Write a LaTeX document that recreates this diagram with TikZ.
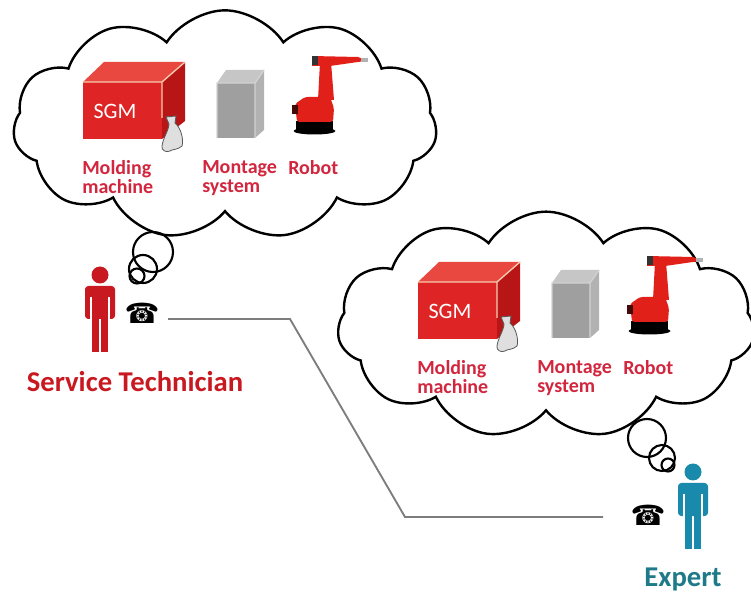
\documentclass[tikz,border=0pt]{standalone}
\usepackage{fontspec}
\setmainfont{Carlito}
\newfontfamily\symfont{DejaVu Sans}
\usetikzlibrary{shapes.symbols}

\definecolor{labelred}{RGB}{210,38,62}
\definecolor{techred}{RGB}{200,24,32}
\definecolor{boxred}{RGB}{222,36,36}
\definecolor{boxdark}{RGB}{184,22,22}
\definecolor{boxlight}{RGB}{232,72,64}
\definecolor{rimcol}{RGB}{246,204,176}
\definecolor{robotred}{RGB}{226,32,26}
\definecolor{expertblue}{RGB}{26,138,172}
\definecolor{experttext}{RGB}{30,122,136}
\definecolor{wiregray}{RGB}{125,125,125}

\tikzset{
  bubble/.style={cloud, cloud puffs=11, cloud puff arc=115, cloud ignores aspect,
    draw, line width=1.8pt, inner sep=0pt},
  machine/.style={font=\bfseries\fontsize{15}{14.5}\selectfont, text=labelred,
    align=left, anchor=north west, inner sep=0pt},
  role/.style={font=\bfseries\fontsize{21.5}{24}\selectfont, anchor=base, inner sep=0pt},
  phone/.style={font=\symfont\fontsize{21}{21}\selectfont, inner sep=0pt},
  wire/.style={draw=wiregray, line width=1.4pt},
  person/.pic={
    \fill (0,0) circle[radius=8.5];
    \fill[rounded corners=2.5pt] (-15,44) -- (-15,11) -- (15,11) -- (15,44) -- cycle;
    \draw[white, line width=1pt] (-9,22) -- (-9,45) (9,22) -- (9,45);
    \fill (-8,40) rectangle (-0.8,77);
    \fill (0.8,40) rectangle (8,77);
  },
  plant/.pic={
    % molding machine
    \fill[boxdark] (162,82) -- (185,62) -- (185,121) -- (162,139) -- cycle;
    \fill[boxlight] (83,82) -- (104,62) -- (185,62) -- (162,82) -- cycle;
    \fill[boxred] (83,82) rectangle (162,139);
    \draw[rimcol, line width=1pt] (83,82) -- (162,82) -- (185,62) (162,82) -- (162,118);
    \node[white, font=\fontsize{16.5}{16.5}\selectfont] (-sgm) at (115,111) {SGM};
    \filldraw[fill=gray!25, draw=gray!70!black, line width=0.6pt]
      (166,117) -- (176,116) -- (175,123) .. controls (181,128) and (184,140) .. (182,146)
      .. controls (178,150) and (172,149) .. (170,151) .. controls (166,153) and (161,150) .. (162,146)
      .. controls (163,138) and (169,130) .. (169,124) -- cycle;
    % montage system
    \fill[gray!45] (226,70) -- (264,70) -- (255,83) -- (217,83) -- cycle;
    \fill[gray!60] (255,83) -- (264,70) -- (264,130) -- (255,138) -- cycle;
    \fill[gray!75] (217,83) rectangle (255,138);
    \draw[gray!35, line width=1pt] (217,138) -- (217,83) -- (255,83) -- (255,138) (255,83) -- (264,70);
    % robot
    \fill[black] (296,121) rectangle (333,131);
    \fill[black] (314.5,131) ellipse [x radius=21, y radius=3.5];
    \fill[robotred, rounded corners=2pt] (297,122) -- (295,104) -- (305,97) -- (330,97)
      -- (334,108) -- (333,122) -- cycle;
    \fill[black!70!robotred] (292,105) rectangle (298,114);
    \fill[robotred] (318,100) -- (320,62) -- (331,62) -- (334,100) -- cycle;
    \fill[robotred] (312,56) -- (358,57) -- (362,58.5) -- (362,61.5) -- (358,62)
      -- (330,66) -- (312,66) -- cycle;
    \fill[black!80] (312,56) rectangle (318,65);
    \fill[gray!60] (361,58) rectangle (368,62);
    % labels
    \node[machine] (-molding) at (82,160) {Molding\\machine};
    \node[machine] (-montage) at (202,160) {Montage\\system};
    \node[machine] (-robot) at (288,160) {Robot};
  }
}

\begin{document}
\begin{tikzpicture}[x=0.75pt, y=-0.75pt]
  \useasboundingbox (0,0) rectangle (751,599);

  % thought clouds
  \node[bubble, minimum width=318pt, minimum height=172pt] (thinkT) at (225,125) {};
  \node[bubble, minimum width=313pt, minimum height=170pt] (thinkE) at (546,325) {};

  \begin{scope}[every node/.style={circle, draw, line width=1.6pt, inner sep=0pt}]
    \node[minimum size=30pt]    (bT1) at (153,252) {};
    \node[minimum size=21pt]    (bT2) at (143,269) {};
    \node[minimum size=11.25pt] (bT3) at (137,276) {};
    \node[minimum size=28.5pt]  (bE1) at (647,438) {};
    \node[minimum size=19.5pt]  (bE2) at (662,458) {};
    \node[minimum size=9.75pt]  (bE3) at (668,465) {};
  \end{scope}

  \pic (plantT) at (0,0) {plant};
  \pic (plantE) at (335,200) {plant};

  % the two people and their phones
  \pic[techred] (tech) at (100,275) {person};
  \pic[expertblue] (expert) at (693,472) {person};
  \node[phone] (phoneT) at (142,313) {☎};
  \node[phone] (phoneE) at (648,515) {☎};

  \node[role, text=techred] (techname) at (135,392) {Service Technician};
  \node[role, text=experttext] (expertname) at (683,586) {Expert};

  % phone line
  \coordinate (wireT) at (168,319);
  \coordinate (bendA) at (290,319);
  \coordinate (bendB) at (405,517);
  \coordinate (wireE) at (603,517);
  \draw[wire] (wireT) -- (bendA) -- (bendB) -- (wireE);

\end{tikzpicture}
\end{document}
